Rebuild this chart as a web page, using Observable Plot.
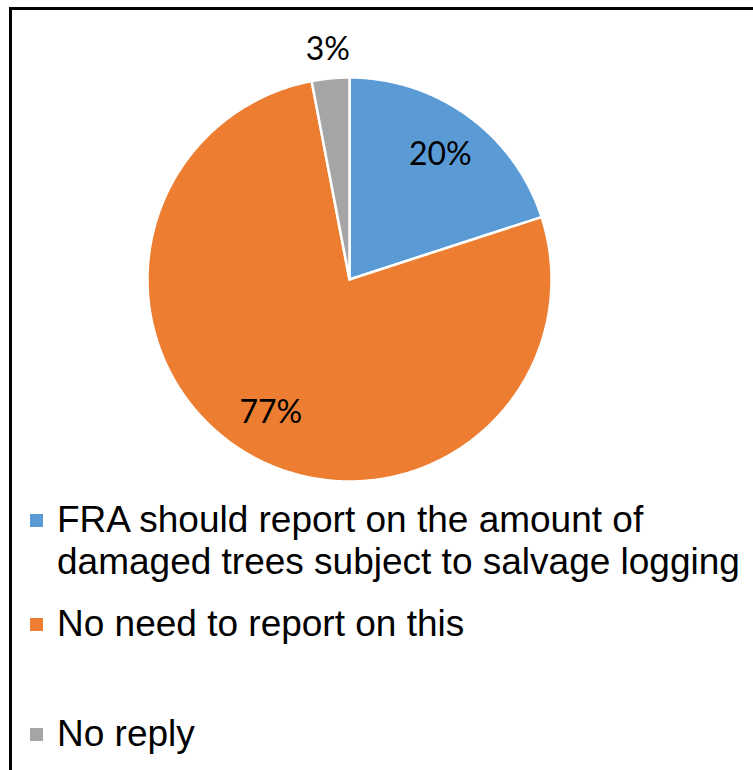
<!DOCTYPE html>
<html>
<head>
<meta charset="utf-8">
<script src="https://cdn.jsdelivr.net/npm/d3@7"></script>
<script src="https://cdn.jsdelivr.net/npm/@observablehq/plot@0.6"></script>
<style>
  html, body { margin: 0; padding: 0; background: #fff; overflow: hidden; }
  body { position: relative; width: 753px; height: 770px; }
  .frame { position: absolute; left: 9px; top: 7px; width: 900px; height: 900px;
           border-top: 3px solid #000; border-left: 3px solid #000; }
  #chart { position: absolute; left: 0; top: 0; }
  .legend { position: absolute; left: 30px; top: 499px; font-family: "Liberation Sans", Arial, sans-serif;
            font-size: 37px; line-height: 42px; color: #000; }
  .item { position: relative; padding-left: 27px; white-space: pre; }
  .item .sw { position: absolute; left: 0; top: 15px; width: 13px; height: 13px; }
</style>
</head>
<body>
<div class="frame"></div>
<div id="chart"></div>
<div class="legend" id="legend"></div>
<script>
// ---- data ----
const categories = [
  "FRA should report on the amount of damaged trees subject to salvage logging",
  "No need to report on this",
  "No reply"
];
const legendLabels = [
  "FRA should report on the amount of\ndamaged trees subject to salvage logging",
  "No need to report on this",
  "No reply"
];
const shares = [20, 77, 3];
const valueLabels = ["20%", "77%", "3%"];
const colors = ["#5B9BD5", "#ED7D31", "#A5A5A5"];

// ---- geometry derived from data (unit circle, clockwise from 12 o'clock) ----
const total = d3.sum(shares);
let acc = 0;
const slices = categories.map((c, i) => {
  const a0 = acc / total * 2 * Math.PI;
  acc += shares[i];
  const a1 = acc / total * 2 * Math.PI;
  return {c, i, a0, a1};
});
const pts = slices.flatMap(s => {
  const n = Math.max(2, Math.ceil((s.a1 - s.a0) / (Math.PI / 360)));
  const arr = [{c: s.c, x: 0, y: 0}];
  for (let k = 0; k <= n; k++) {
    const a = s.a0 + (s.a1 - s.a0) * k / n;
    arr.push({c: s.c, x: Math.sin(a), y: Math.cos(a)});
  }
  arr.push({c: s.c, x: 0, y: 0});
  return arr;
});
const labelData = slices.map(s => {
  const m = (s.a0 + s.a1) / 2;
  const rr = shares[s.i] < 5 ? 1.14 : 0.765;
  return {x: Math.sin(m) * rr, y: Math.cos(m) * rr, t: valueLabels[s.i]};
});

const cx = 349, cy = 279, r = 202;
const chart = Plot.plot({
  width: 753,
  height: 495,
  margin: 0,
  style: {background: "none", overflow: "visible"},
  x: {domain: [-1, 1], range: [cx - r, cx + r], axis: null},
  y: {domain: [-1, 1], range: [cy + r, cy - r], axis: null},
  color: {domain: categories, range: colors},
  marks: [
    Plot.line(pts, {x: "x", y: "y", z: "c", fill: "c", stroke: "white", strokeWidth: 2.5,
                    strokeLinejoin: "round", curve: "linear"}),
    Plot.text(labelData, {x: "x", y: "y", text: "t", fontSize: 32, fontFamily: "Lato, 'Open Sans', sans-serif",
                          fill: "#000", textAnchor: "middle", lineAnchor: "middle"})
  ]
});
document.getElementById("chart").appendChild(chart);

// ---- legend ----
const lg = document.getElementById("legend");
const gaps = [0, 20, 68];
categories.forEach((c, i) => {
  const d = document.createElement("div");
  d.className = "item";
  d.style.marginTop = gaps[i] + "px";
  const sw = document.createElement("span");
  sw.className = "sw";
  sw.style.background = colors[i];
  d.appendChild(sw);
  d.appendChild(document.createTextNode(legendLabels[i]));
  lg.appendChild(d);
});
</script>
</body>
</html>
